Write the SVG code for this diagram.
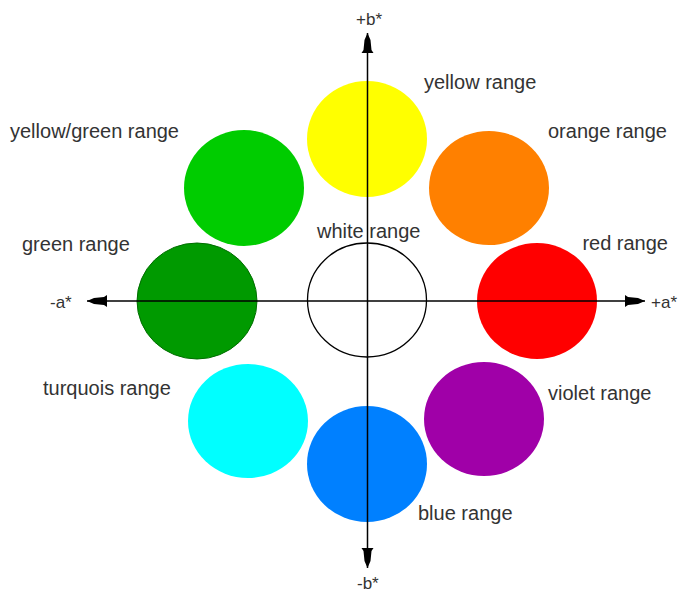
<svg xmlns="http://www.w3.org/2000/svg" width="680" height="593" viewBox="0 0 680 593">
<style>
.lbl{font-family:"Liberation Sans",Arial,sans-serif;font-size:20px;fill:#333}
.ax{font-family:"Liberation Sans",Arial,sans-serif;font-size:17px;fill:#333}
.axis{stroke:#000;stroke-width:1.5;fill:none}
</style>
<defs>
<marker id="ah" markerUnits="userSpaceOnUse" markerWidth="22" markerHeight="14" refX="20" refY="7" orient="auto-start-reverse" viewBox="0 0 22 14">
<path d="M20,7 L13,4 L3,3 L0,1 L0,13 L3,11 L13,10 Z" fill="#000"/>
</marker>
</defs>
<rect width="680" height="593" fill="#fff"/>
<g id="yellow"><ellipse cx="367" cy="139" rx="60" ry="58" fill="#FFFF00"/><text class="lbl" x="424" y="89">yellow range</text></g>
<g id="orange"><ellipse cx="489" cy="188" rx="60" ry="57" fill="#FF8000"/><text class="lbl" x="548" y="138">orange range</text></g>
<g id="red"><ellipse cx="537" cy="301" rx="60" ry="58" fill="#FF0000"/><text class="lbl" x="668" y="250" text-anchor="end">red range</text></g>
<g id="violet"><ellipse cx="484" cy="419" rx="60" ry="57" fill="#A000A8"/><text class="lbl" x="548" y="400">violet range</text></g>
<g id="blue"><ellipse cx="367" cy="464" rx="60" ry="58" fill="#0080FF"/><text class="lbl" x="418" y="520">blue range</text></g>
<g id="turquois"><ellipse cx="248" cy="421" rx="60" ry="57" fill="#00FFFF"/><text class="lbl" x="43" y="395">turquois range</text></g>
<g id="green"><ellipse cx="197" cy="301" rx="60" ry="58" fill="#009A00" stroke="#006E00" stroke-width="1"/><text class="lbl" x="22" y="251">green range</text></g>
<g id="yellowgreen"><ellipse cx="244" cy="188" rx="60" ry="58" fill="#00CC00"/><text class="lbl" x="10" y="138">yellow/green range</text></g>
<g id="white"><ellipse cx="367" cy="300" rx="59.5" ry="57" fill="none" stroke="#000" stroke-width="1.3"/><text class="lbl" x="317" y="238">white range</text></g>
<g id="connectors">
<line class="axis" x1="367.5" y1="568" x2="367.5" y2="33" marker-start="url(#ah)" marker-end="url(#ah)"/>
<line class="axis" x1="87" y1="301" x2="645" y2="301" marker-start="url(#ah)" marker-end="url(#ah)"/>
</g>
<g id="axis-labels">
<text class="ax" x="356" y="25">+b*</text>
<text class="ax" x="357" y="589">-b*</text>
<text class="ax" x="50" y="308">-a*</text>
<text class="ax" x="677" y="308" text-anchor="end">+a*</text>
</g>
</svg>
